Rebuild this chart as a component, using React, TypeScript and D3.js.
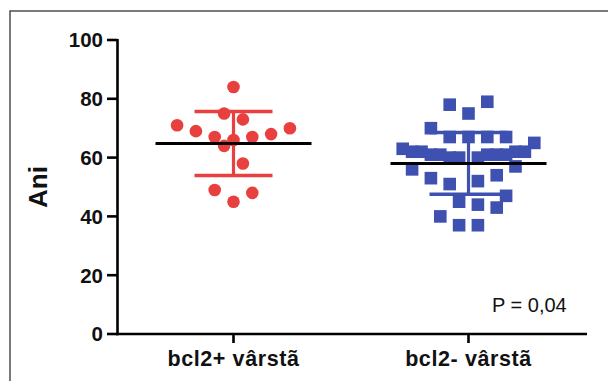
import React from "react";
import * as d3 from "d3";

const categories = ["bcl2+ vârstã", "bcl2- vârstã"];
const yTicks = [0, 20, 40, 60, 80, 100];

// group 1 (bcl2+): values and jitter slot
const redValues = [84, 75, 73, 71, 69, 70, 68, 67, 66, 67, 64, 58, 49, 48, 45];
const redSlots = [0, -1, 1, -6, -4, 6, 4, -2, 0, 2, -1, 1, -2, 2, 0];

// group 2 (bcl2-)
const blueValues = [79, 78, 75, 70, 67, 67, 67, 67, 65, 63, 62, 62, 61, 61, 60, 60, 60, 61, 61, 61, 62, 62, 56, 57, 53, 51, 52, 54, 47, 45, 44, 43, 40, 37, 37];
const blueSlots = [2, -2, 0, -4, -2, 0, 2, 4, 7, -7, -6, -5, -4, -3, -2, -1, 1, 2, 3, 4, 5, 6, -6, 5, -4, -2, 1, 3, 4, -1, 1, 3, -3, -1, 1];

// mean and SD shown in the picture
const means = [64.8, 58];
const sds = [10.9, 10.5];

const pValue = "P = 0,04";

const W = 608;
const H = 381;

export default function App() {
  const y = d3.scaleLinear().domain([0, 100]).range([334, 40]);
  const x = d3.scaleBand<string>().domain(categories).range([116, 586]);
  const slot = d3.scaleLinear().domain([-1, 1]).range([-9.4, 9.4]);
  const cx = (i: number) => (x(categories[i]) as number) + x.bandwidth() / 2;

  const red = "#E8403F";
  const blue = "#3F51B0";
  const sq = 12.6;
  const bold = "'Liberation Sans', Arial, sans-serif";

  const groups = [
    { values: redValues, slots: redSlots, color: red, shape: "circle" },
    { values: blueValues, slots: blueSlots, color: blue, shape: "square" },
  ];

  return (
    <svg width={W} height={H} style={{ position: "absolute", left: 0, top: 0, background: "#fff" }}>
      <rect x={10} y={11} width={W + 20} height={H + 20} fill="none" stroke="#333" strokeWidth={1.3} />

      {/* points */}
      {groups.map((g, gi) => (
        <g key={gi} fill={g.color}>
          {g.values.map((v, i) =>
            g.shape === "circle" ? (
              <circle key={i} cx={cx(gi) + slot(g.slots[i])} cy={y(v)} r={6.3} />
            ) : (
              <rect key={i} x={cx(gi) + slot(g.slots[i]) - sq / 2} y={y(v) - sq / 2} width={sq} height={sq} />
            )
          )}
        </g>
      ))}

      {/* error bars and means */}
      {groups.map((g, gi) => {
        const c = cx(gi);
        const hi = y(means[gi] + sds[gi]);
        const lo = y(means[gi] - sds[gi]);
        return (
          <g key={"e" + gi}>
            <line x1={c} x2={c} y1={hi} y2={lo} stroke={g.color} strokeWidth={3.2} />
            <line x1={c - 39} x2={c + 39} y1={hi} y2={hi} stroke={g.color} strokeWidth={3.5} />
            <line x1={c - 39} x2={c + 39} y1={lo} y2={lo} stroke={g.color} strokeWidth={3.5} />
            <line x1={c - 78} x2={c + 78} y1={y(means[gi])} y2={y(means[gi])} stroke="#000" strokeWidth={3.2} />
          </g>
        );
      })}

      {/* y axis */}
      <line x1={117.5} x2={117.5} y1={y(100) - 1} y2={y(0) + 1.2} stroke="#000" strokeWidth={2.6} />
      {yTicks.map((t) => (
        <g key={t}>
          <line x1={107} x2={117.5} y1={y(t)} y2={y(t)} stroke="#000" strokeWidth={2.6} />
          <text x={103} y={y(t)} dy="0.36em" textAnchor="end" fontFamily={bold} fontWeight="bold" fontSize={20.5} fill="#111">
            {t}
          </text>
        </g>
      ))}
      <text
        transform={`translate(47, ${y(50)}) rotate(-90)`}
        textAnchor="middle"
        fontFamily={bold}
        fontWeight="bold"
        fontSize={26}
        fill="#111"
      >
        Ani
      </text>

      {/* x axis */}
      <line x1={116.2} x2={587} y1={y(0)} y2={y(0)} stroke="#000" strokeWidth={2.6} />
      {categories.map((c, i) => (
        <g key={c}>
          <line x1={cx(i)} x2={cx(i)} y1={y(0)} y2={y(0) + 9} stroke="#000" strokeWidth={2.6} />
          <text x={cx(i)} y={366} textAnchor="middle" fontFamily={bold} fontWeight="bold" fontSize={21.5} letterSpacing={0.6} fill="#111">
            {c}
          </text>
        </g>
      ))}

      <text x={492} y={311.5} fontFamily="'Liberation Sans', Arial, sans-serif" fontSize={20} fill="#111">
        {pValue}
      </text>
    </svg>
  );
}
